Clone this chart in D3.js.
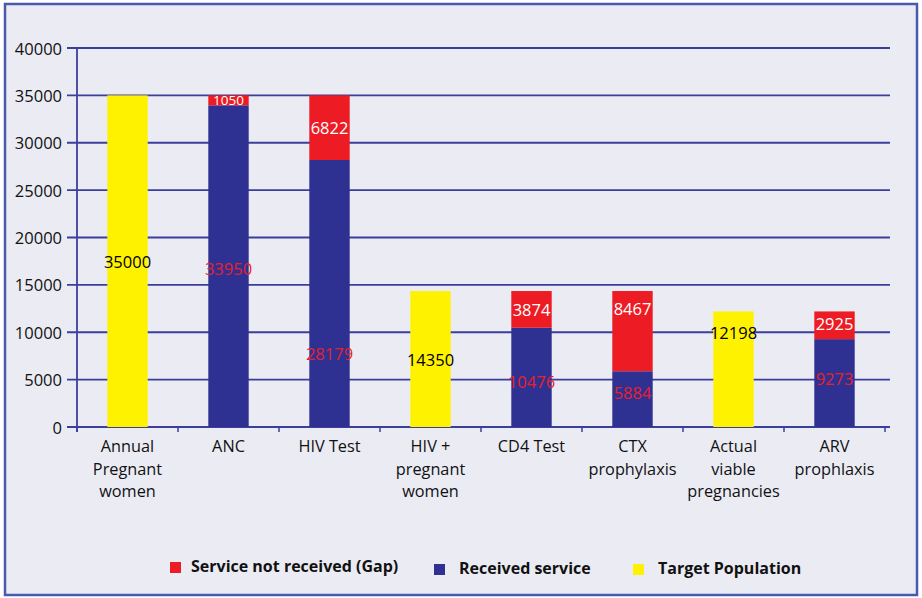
<!DOCTYPE html>
<html>
<head>
<meta charset="utf-8">
<script src="https://cdn.jsdelivr.net/npm/d3@7"></script>
<style>
  body { margin: 0; background: #fff; }
  svg { display: block; font-family: "Open Sans", "Noto Sans", sans-serif; }
</style>
</head>
<body>
<div id="chart"></div>
<script>
// chart data
var categories = [
  ["Annual", "Pregnant", "women"],
  ["ANC"],
  ["HIV Test"],
  ["HIV +", "pregnant", "women"],
  ["CD4 Test"],
  ["CTX", "prophylaxis"],
  ["Actual", "viable", "pregnancies"],
  ["ARV", "prophlaxis"]
];
var target = [35000, 0, 0, 14350, 0, 0, 12198, 0];
var received = [0, 33950, 28179, 0, 10476, 5884, 0, 9273];
var gap = [0, 1050, 6822, 0, 3874, 8467, 0, 2925];
var yTicks = [0, 5000, 10000, 15000, 20000, 25000, 30000, 35000, 40000];
var legendNames = ["Service not received (Gap)", "Received service", "Target Population"];

var colors = { gap: "#ed1c24", received: "#2e3192", target: "#fff200" };
var gridColor = "#3b3f9c";

var width = 922, height = 598;
var margin = { left: 77, right: 37, top: 48, bottom: 171 };

// hand-placed label nudges (px), the labels in the original were dragged around
var nudgeReceived = { 1: 2, 2: 60, 4: 4, 5: -7, 7: -5 };
var nudgeGap = { 5: -23, 7: -2 };
var nudgeTarget = { 6: -37 };

var svg = d3.select("#chart").append("svg")
  .attr("width", width)
  .attr("height", height);

// background + frame
svg.append("rect")
  .attr("x", 5).attr("y", 4)
  .attr("width", width - 10).attr("height", height - 7)
  .attr("fill", "#ebebf4")
  .attr("stroke", "#4a5aab")
  .attr("stroke-width", 2.5);

var x = d3.scaleBand()
  .domain(d3.range(categories.length))
  .range([margin.left, margin.left + 101 * categories.length])
  .paddingInner(0.6).paddingOuter(0.3);

var y = d3.scaleLinear()
  .domain([0, 40000])
  .range([height - margin.bottom, margin.top]);

var plotRight = width - 32;

// gridlines
svg.append("g").selectAll("line")
  .data(yTicks)
  .join("line")
  .attr("x1", margin.left - 10)
  .attr("x2", plotRight)
  .attr("y1", function(d) { return y(d); })
  .attr("y2", function(d) { return y(d); })
  .attr("stroke", gridColor)
  .attr("stroke-width", 1.8);

// y tick labels
svg.append("g").selectAll("text")
  .data(yTicks)
  .join("text")
  .attr("x", margin.left - 15)
  .attr("y", function(d) { return y(d); })
  .attr("text-anchor", "end")
  .attr("dominant-baseline", "central")
  .attr("font-size", 16.5)
  .attr("fill", "#111")
  .text(function(d) { return d; });

// y axis line
svg.append("line")
  .attr("x1", margin.left).attr("x2", margin.left)
  .attr("y1", y(40000)).attr("y2", y(0) + 5)
  .attr("stroke", gridColor).attr("stroke-width", 1.8);

// x category ticks
var step = x.step();
svg.append("g").selectAll("line")
  .data(d3.range(categories.length + 1))
  .join("line")
  .attr("x1", function(i) { return margin.left + step * i; })
  .attr("x2", function(i) { return margin.left + step * i; })
  .attr("y1", y(0)).attr("y2", y(0) + 5)
  .attr("stroke", gridColor).attr("stroke-width", 1.5);

// stacked bars
var bars = svg.append("g");
categories.forEach(function(c, i) {
  var bx = x(i), bw = x.bandwidth();
  if (target[i] > 0) {
    bars.append("rect")
      .attr("x", bx).attr("width", bw)
      .attr("y", y(target[i])).attr("height", y(0) - y(target[i]))
      .attr("fill", colors.target);
  }
  if (received[i] > 0) {
    bars.append("rect")
      .attr("x", bx).attr("width", bw)
      .attr("y", y(received[i])).attr("height", y(0) - y(received[i]))
      .attr("fill", colors.received);
  }
  if (gap[i] > 0) {
    bars.append("rect")
      .attr("x", bx).attr("width", bw)
      .attr("y", y(received[i] + gap[i])).attr("height", y(received[i]) - y(received[i] + gap[i]))
      .attr("fill", colors.gap);
  }
});

// value labels
var labels = svg.append("g")
  .attr("text-anchor", "middle")
  .attr("dominant-baseline", "central");
categories.forEach(function(c, i) {
  var cx = x(i) + x.bandwidth() / 2;
  if (target[i] > 0) {
    labels.append("text")
      .attr("x", cx).attr("y", y(target[i] / 2) + (nudgeTarget[i] || 0))
      .attr("font-size", 16.5).attr("fill", "#000")
      .text(target[i]);
  }
  if (received[i] > 0) {
    labels.append("text")
      .attr("x", cx).attr("y", y(received[i] / 2) + (nudgeReceived[i] || 0))
      .attr("font-size", 16.5).attr("fill", "#e8202a")
      .text(received[i]);
  }
  if (gap[i] > 0) {
    labels.append("text")
      .attr("x", cx).attr("y", y(received[i] + gap[i] / 2) + (nudgeGap[i] || 0))
      .attr("font-size", gap[i] < 2000 ? 13.5 : 16.5).attr("fill", "#fff")
      .text(gap[i]);
  }
});

// category labels
var cat = svg.append("g").attr("text-anchor", "middle");
categories.forEach(function(lines, i) {
  var t = cat.append("text")
    .attr("x", x(i) + x.bandwidth() / 2)
    .attr("y", y(0) + 25)
    .attr("font-size", 16.3)
    .attr("fill", "#111");
  lines.forEach(function(l, k) {
    t.append("tspan")
      .attr("x", x(i) + x.bandwidth() / 2)
      .attr("dy", k === 0 ? 0 : 22.5)
      .text(l);
  });
});

// legend
var legendKeys = [colors.gap, colors.received, colors.target];
var legendX = [170, 434, 633];
var legendY = [566, 568, 568];
var legend = svg.append("g").attr("font-weight", "bold").attr("font-size", 16);
legendNames.forEach(function(name, i) {
  legend.append("rect")
    .attr("x", legendX[i]).attr("y", legendY[i] - 4)
    .attr("width", 11).attr("height", 11)
    .attr("fill", legendKeys[i]);
  legend.append("text")
    .attr("x", legendX[i] + (i === 0 ? 21 : 25))
    .attr("y", legendY[i])
    .attr("dominant-baseline", "central")
    .attr("fill", "#111")
    .text(name);
});
</script>
</body>
</html>
